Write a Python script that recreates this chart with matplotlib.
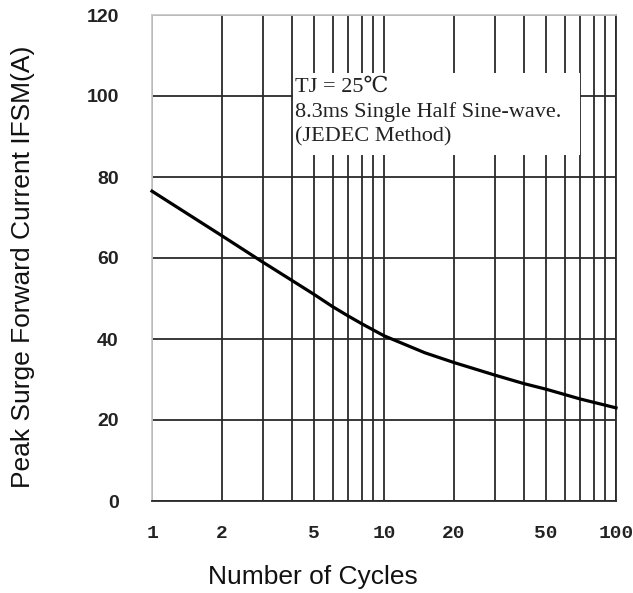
import matplotlib
matplotlib.use('Agg')
import matplotlib.pyplot as plt
from matplotlib.patches import Rectangle
from matplotlib.ticker import FixedLocator, NullFormatter

# surge current vs. number of cycles
cycles = [1, 2, 3, 4, 5, 6, 7, 8, 10, 15, 20, 30, 40, 50, 70, 100]
ifsm = [76.5, 65.5, 59, 54.5, 51, 48, 45.7, 43.8, 40.8, 36.6, 34.2, 31.1, 29.0, 27.6, 25.2, 23.0]

x_major = [1, 2, 5, 10, 20, 50, 100]
x_labels = ['1', '2', '5', '10', '20', '50', '100']
x_grid = [2, 3, 4, 5, 6, 7, 8, 9, 10, 20, 30, 40, 50, 60, 70, 80, 90]
y_ticks = [0, 20, 40, 60, 80, 100, 120]

note_lines = ['TJ = 25\u2103', '8.3ms Single Half Sine-wave.', '(JEDEC Method)']

fig = plt.figure(figsize=(6.33, 5.93), dpi=100)
ax = fig.add_axes([152/633, 1-501/593, 464/633, 486/593])

ax.plot(cycles, ifsm, color='black', linewidth=2.3, zorder=4, clip_on=False)

ax.set_xscale('log')
ax.set_xlim(1, 100)
ax.set_ylim(0, 120)

ax.xaxis.set_major_locator(FixedLocator(x_major))
ax.set_xticklabels(x_labels)
ax.xaxis.set_minor_locator(FixedLocator([v for v in x_grid if v not in x_major]))
ax.xaxis.set_minor_formatter(NullFormatter())
ax.set_yticks(y_ticks)

ax.set_axisbelow(True)
ax.grid(which='both', axis='x', color='#2a2a2a', linewidth=1.3)
ax.grid(which='major', axis='y', color='#2a2a2a', linewidth=1.3)

ax.tick_params(which='both', length=0)
ax.tick_params(axis='x', pad=17)
ax.tick_params(axis='y', pad=24)
for lab in ax.get_xticklabels():
    lab.set_fontfamily('Liberation Mono')
    lab.set_fontweight('bold')
    lab.set_fontsize(14)
    lab.set_color('#222222')
for lab in ax.get_yticklabels():
    lab.set_fontfamily('Liberation Sans')
    lab.set_fontweight('bold')
    lab.set_fontsize(14)
    lab.set_color('#222222')

ax.spines['left'].set_color('#c8c8c8')
ax.spines['top'].set_color('#c8c8c8')
ax.spines['right'].set_color('#2a2a2a')
ax.spines['bottom'].set_color('#2a2a2a')
for s in ax.spines.values():
    s.set_linewidth(1.3)
    s.set_zorder(1.5)

# white box behind the note
bx0 = (293-152)/464; bx1 = (580-152)/464
by0 = (501-155)/486; by1 = (501-73)/486
ax.add_patch(Rectangle((bx0, by0), bx1-bx0, by1-by0, transform=ax.transAxes,
                       facecolor='white', edgecolor='none', zorder=2))
for i, line in enumerate(note_lines):
    ax.text((295-152)/464, (501-87-25*i)/486, line, transform=ax.transAxes,
            family=['Liberation Serif', 'DejaVu Serif', 'Noto Sans CJK SC'],
            fontsize=16, color='#222222', va='center', ha='left', zorder=3)

fig.text(313/633, 1-577/593, 'Number of Cycles', fontfamily='Liberation Sans',
         fontsize=19, ha='center', va='center', color='#111111')
fig.text(23/633, 1-267/593, 'Peak Surge Forward Current IFSM(A)', fontfamily='Liberation Sans',
         fontsize=19, ha='center', va='center', rotation=90, color='#111111')

fig.savefig('out.png', dpi=100)
